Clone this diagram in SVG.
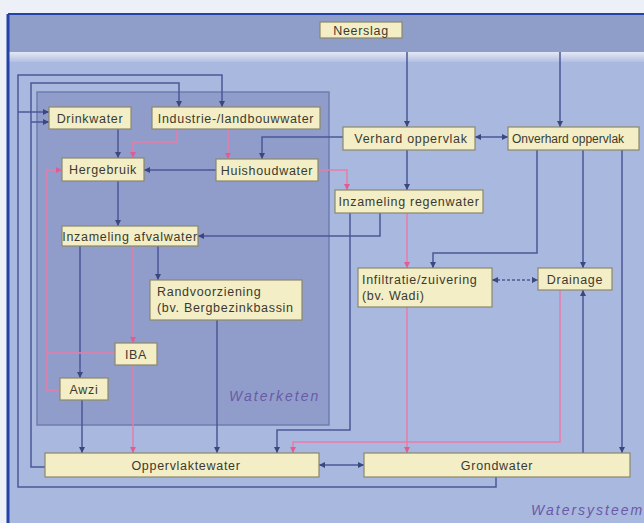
<svg xmlns="http://www.w3.org/2000/svg" width="644" height="523" viewBox="0 0 644 523">
<defs>
<linearGradient id="strip" x1="0" y1="0" x2="0" y2="1">
<stop offset="0" stop-color="#e4e8f4"/>
<stop offset="1" stop-color="#b3c0e2"/>
</linearGradient>
<marker id="ab" markerUnits="userSpaceOnUse" markerWidth="7" markerHeight="7" refX="6" refY="3.5" orient="auto-start-reverse">
<path d="M0,0.5 L6,3.5 L0,6.5 z" fill="#3c467f"/>
</marker>
<marker id="ap" markerUnits="userSpaceOnUse" markerWidth="7" markerHeight="7" refX="6" refY="3.5" orient="auto-start-reverse">
<path d="M0,0.5 L6,3.5 L0,6.5 z" fill="#e05d93"/>
</marker>
</defs>
<style>
.box{fill:#f4eec6;stroke:#8b8868;stroke-width:1.2}
.t{font-family:"Liberation Sans",Arial,sans-serif;font-size:12.5px;letter-spacing:0.7px;fill:#3b3a30}
.c{text-anchor:middle}
.lbl{font-family:"Liberation Sans",Arial,sans-serif;font-size:14px;font-style:italic;letter-spacing:2px;fill:#6a5aa6}
.b{fill:none;stroke:#4b5797;stroke-width:1.5}
.p{fill:none;stroke:#ea7ba7;stroke-width:1.5}
.ba{marker-end:url(#ab)}
.bb{marker-start:url(#ab);marker-end:url(#ab)}
.pa{marker-end:url(#ap)}
</style>
<rect x="0" y="0" width="644" height="523" fill="#eef0f7"/>
<rect x="8" y="14" width="636" height="509" fill="#a9b8de"/>
<rect x="8" y="15" width="636" height="37" fill="#8f9dc9"/>
<rect x="8" y="52" width="636" height="10" fill="url(#strip)"/>
<line x1="8" y1="14" x2="644" y2="14" stroke="#2443a8" stroke-width="2"/>
<line x1="8" y1="14" x2="8" y2="523" stroke="#2443a8" stroke-width="3"/>
<g id="waterketen">
<rect x="37" y="92" width="292" height="333" fill="#909dcb" stroke="#6f7cb0" stroke-width="1.5"/>
<text class="lbl" x="229" y="401">Waterketen</text>
</g>
<text class="lbl" x="531" y="515">Watersysteem</text>
<g id="connectors">
<path class="b ba" d="M407,52 V127"/>
<path class="b ba" d="M560,52 V127"/>
<path class="b ba" d="M496,477 V487 H18 V75 H222 V107"/>
<path class="b ba" d="M18,112 H49"/>
<path class="b ba" d="M45,467 H31 V83 H179 V107"/>
<path class="b ba" d="M31,122 H49"/>
<path class="b ba" d="M118,129 V158"/>
<path class="b ba" d="M216,170 H144"/>
<path class="b ba" d="M343,137 H262 V159"/>
<path class="b ba" d="M118,181 V226"/>
<path class="b ba" d="M380,213 V236 H198"/>
<path class="b ba" d="M80,246 V378"/>
<path class="b ba" d="M158,246 V280"/>
<path class="b ba" d="M82,400 V453"/>
<path class="b ba" d="M217,320 V453"/>
<path class="b ba" d="M350,213 V430 H277 V453"/>
<path class="b ba" d="M407,150 V190"/>
<path class="b bb" d="M475,137 H508"/>
<path class="b ba" d="M537,150 V253 H433 V268"/>
<path class="b ba" d="M583,150 V268"/>
<path class="b ba" d="M622,150 V453"/>
<path class="b ba" d="M583,453 V290"/>
<path class="b bb" d="M492,280 H538" stroke-dasharray="3 2"/>
<path class="b bb" d="M319,465 H364"/>
<path class="p pa" d="M228,129 V159"/>
<path class="p pa" d="M177,129 V142 H133 V158"/>
<path class="p pa" d="M60,390 H47 V170 H62"/>
<path class="p" d="M115,353 H47"/>
<path class="p pa" d="M133,246 V343"/>
<path class="p pa" d="M133,365 V453"/>
<path class="p pa" d="M318,170 H347 V190"/>
<path class="p pa" d="M407,213 V268"/>
<path class="p pa" d="M407,307 V453"/>
<path class="p pa" d="M560,290 V442 H293 V453"/>
</g>
<g id="neerslag"><rect class="box" x="320" y="22" width="82" height="16"/><text class="t c" x="361" y="34.5">Neerslag</text></g>
<g id="drinkwater"><rect class="box" x="49" y="107" width="82" height="22"/><text class="t c" x="90" y="122.5">Drinkwater</text></g>
<g id="industrie"><rect class="box" x="152" y="107" width="168" height="22"/><text class="t c" x="236" y="122.5">Industrie-/landbouwwater</text></g>
<g id="hergebruik"><rect class="box" x="62" y="158" width="82" height="23"/><text class="t c" x="103" y="174">Hergebruik</text></g>
<g id="huishoudwater"><rect class="box" x="216" y="159" width="102" height="22"/><text class="t c" x="267" y="174.5">Huishoudwater</text></g>
<g id="verhard"><rect class="box" x="343" y="127" width="132" height="23"/><text class="t c" x="411" y="143">Verhard oppervlak</text></g>
<g id="onverhard"><rect class="box" x="508" y="127" width="131" height="23"/><text class="t" x="512" y="143" style="font-size:12px;letter-spacing:0">Onverhard oppervlak</text></g>
<g id="inzameling-regenwater"><rect class="box" x="335" y="190" width="148" height="23"/><text class="t c" x="409" y="206">Inzameling regenwater</text></g>
<g id="inzameling-afvalwater"><rect class="box" x="62" y="226" width="136" height="20"/><text class="t c" x="130" y="240.5">Inzameling afvalwater</text></g>
<g id="randvoorziening"><rect class="box" x="150" y="280" width="152" height="40"/><text class="t" x="157" y="296">Randvoorziening</text><text class="t" x="157" y="312">(bv. Bergbezinkbassin</text></g>
<g id="infiltratie"><rect class="box" x="358" y="268" width="134" height="39"/><text class="t" x="362" y="284">Infiltratie/zuivering</text><text class="t" x="362" y="300">(bv. Wadi)</text></g>
<g id="drainage"><rect class="box" x="538" y="268" width="74" height="22"/><text class="t c" x="575" y="283.5">Drainage</text></g>
<g id="iba"><rect class="box" x="115" y="343" width="42" height="22"/><text class="t c" x="136" y="358.5">IBA</text></g>
<g id="awzi"><rect class="box" x="60" y="378" width="48" height="22"/><text class="t c" x="84" y="393.5">Awzi</text></g>
<g id="oppervlaktewater"><rect class="box" x="45" y="453" width="274" height="24"/><text class="t c" x="186" y="469.5">Oppervlaktewater</text></g>
<g id="grondwater"><rect class="box" x="364" y="453" width="266" height="24"/><text class="t c" x="497" y="469.5">Grondwater</text></g>
</svg>
